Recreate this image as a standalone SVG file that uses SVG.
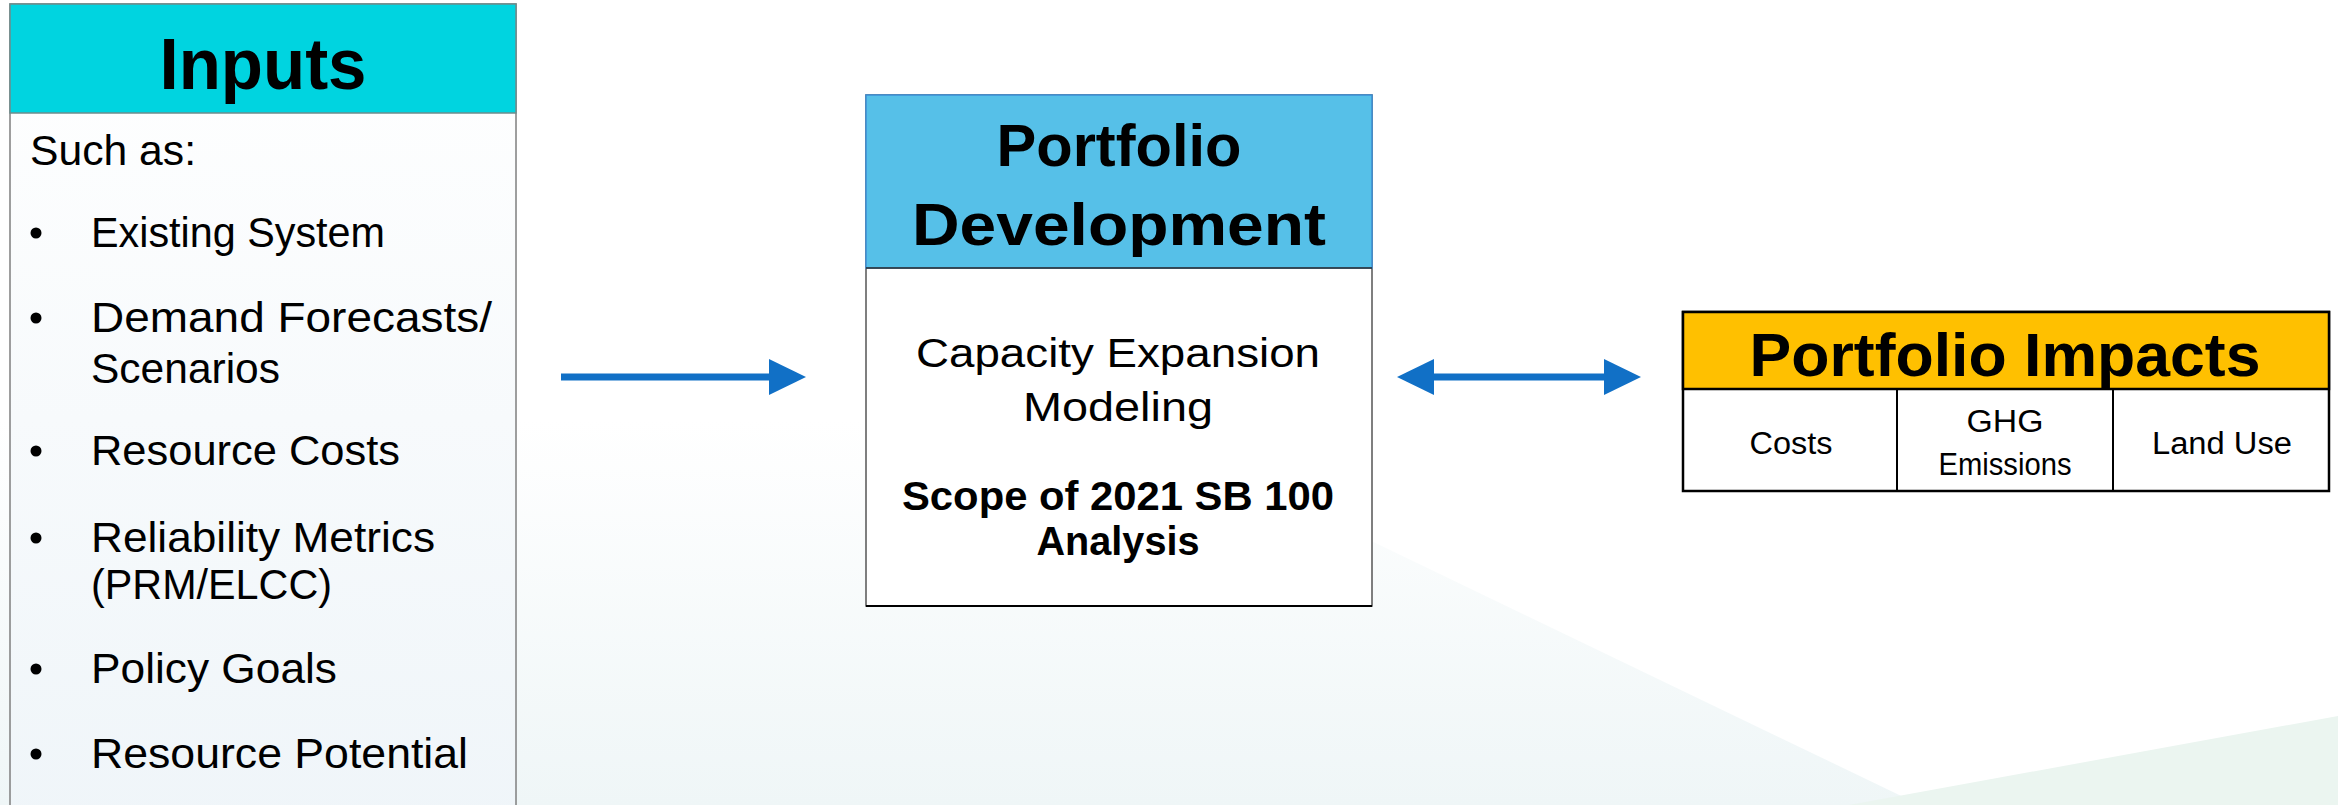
<svg xmlns="http://www.w3.org/2000/svg" width="2338" height="805" viewBox="0 0 2338 805">
  <style>
    .t { font-family: "Liberation Sans", Arial, sans-serif; fill: #000; }
    .b { font-weight: bold; }
    .body { font-size: 42px; }
    .mid { text-anchor: middle; }
    .cell { font-size: 31px; }
    .conn { stroke: #1170C6; stroke-width: 7; fill: none; }
  </style>
  <defs>
    <linearGradient id="bgTint" x1="0" y1="0" x2="0" y2="1">
      <stop offset="0" stop-color="#FFFFFF"/>
      <stop offset="1" stop-color="#EFF6F7"/>
    </linearGradient>
    <linearGradient id="inTint" x1="0" y1="0" x2="0" y2="1">
      <stop offset="0" stop-color="#FFFFFF"/>
      <stop offset="1" stop-color="#EFF5F9"/>
    </linearGradient>
    <marker id="head" viewBox="0 0 37 36" refX="0" refY="18" markerWidth="37" markerHeight="36" markerUnits="userSpaceOnUse" orient="auto-start-reverse">
      <path d="M0,0 L37,18 L0,36 Z" fill="#1170C6"/>
    </marker>
  </defs>

  <!-- background -->
  <rect x="0" y="0" width="2338" height="805" fill="#FFFFFF"/>
  <polygon points="0,420 1120,420 1920,805 0,805" fill="url(#bgTint)"/>
  <polygon points="1849,805 2338,716 2338,805" fill="#EBF5F0"/>

  <!-- Inputs -->
  <g id="inputs">
    <rect x="10" y="4" width="506" height="830" fill="url(#inTint)" stroke="#7F7F7F" stroke-width="1.5"/>
    <rect x="10" y="4" width="506" height="109" fill="#00D4E0" stroke="#6E8C8C" stroke-width="1.5"/>
    <text class="t b mid" x="263" y="89" font-size="73" textLength="207" lengthAdjust="spacingAndGlyphs">Inputs</text>
    <text class="t body" x="30" y="165" textLength="166" lengthAdjust="spacingAndGlyphs">Such as:</text>
    <g fill="#000">
      <circle cx="36" cy="233" r="5.5"/>
      <circle cx="36" cy="318" r="5.5"/>
      <circle cx="36" cy="451" r="5.5"/>
      <circle cx="36" cy="538" r="5.5"/>
      <circle cx="36" cy="669" r="5.5"/>
      <circle cx="36" cy="754" r="5.5"/>
    </g>
    <text class="t body" x="91" y="247" textLength="294" lengthAdjust="spacingAndGlyphs">Existing  System</text>
    <text class="t body" x="91" y="332" textLength="401" lengthAdjust="spacingAndGlyphs">Demand Forecasts/</text>
    <text class="t body" x="91" y="383" textLength="189" lengthAdjust="spacingAndGlyphs">Scenarios</text>
    <text class="t body" x="91" y="465" textLength="309" lengthAdjust="spacingAndGlyphs">Resource Costs</text>
    <text class="t body" x="91" y="552" textLength="344" lengthAdjust="spacingAndGlyphs">Reliability  Metrics</text>
    <text class="t body" x="91" y="599" textLength="241" lengthAdjust="spacingAndGlyphs">(PRM/ELCC)</text>
    <text class="t body" x="91" y="683" textLength="246" lengthAdjust="spacingAndGlyphs">Policy Goals</text>
    <text class="t body" x="91" y="768" textLength="377" lengthAdjust="spacingAndGlyphs">Resource Potential</text>
  </g>

  <!-- Portfolio Development -->
  <g id="portfolio-development">
    <rect x="866" y="95" width="506" height="511" fill="#FFFFFF" stroke="#555555" stroke-width="1.5"/>
    <line x1="866" y1="606" x2="1372" y2="606" stroke="#000" stroke-width="2"/>
    <rect x="866" y="95" width="506" height="173" fill="#56C0E8" stroke="#3D8ED6" stroke-width="1.5"/>
    <line x1="866" y1="268" x2="1372" y2="268" stroke="#2B2B2B" stroke-width="1.5"/>
    <text class="t b mid" x="1119" y="166" font-size="60" textLength="245" lengthAdjust="spacingAndGlyphs">Portfolio</text>
    <text class="t b mid" x="1119" y="245" font-size="60" textLength="414" lengthAdjust="spacingAndGlyphs">Development</text>
    <text class="t mid" x="1118" y="367" font-size="40" textLength="404" lengthAdjust="spacingAndGlyphs">Capacity  Expansion</text>
    <text class="t mid" x="1118" y="421" font-size="40" textLength="190" lengthAdjust="spacingAndGlyphs">Modeling</text>
    <text class="t b mid" x="1118" y="510" font-size="41" textLength="432" lengthAdjust="spacingAndGlyphs">Scope  of  2021  SB  100</text>
    <text class="t b mid" x="1118" y="555" font-size="41" textLength="163" lengthAdjust="spacingAndGlyphs">Analysis</text>
  </g>

  <!-- Portfolio Impacts -->
  <g id="portfolio-impacts">
    <rect x="1683" y="312" width="646" height="179" fill="#FFFFFF" stroke="#000" stroke-width="2.5"/>
    <rect x="1683" y="312" width="646" height="77" fill="#FFC000" stroke="#000" stroke-width="2.5"/>
    <line x1="1897" y1="389" x2="1897" y2="491" stroke="#000" stroke-width="2"/>
    <line x1="2113" y1="389" x2="2113" y2="491" stroke="#000" stroke-width="2"/>
    <text class="t b mid" x="2005" y="376" font-size="62" textLength="511" lengthAdjust="spacingAndGlyphs">Portfolio Impacts</text>
    <text class="t cell mid" x="1791" y="454" textLength="83" lengthAdjust="spacingAndGlyphs">Costs</text>
    <text class="t cell mid" x="2005" y="432" textLength="77" lengthAdjust="spacingAndGlyphs">GHG</text>
    <text class="t cell mid" x="2005" y="475" textLength="133" lengthAdjust="spacingAndGlyphs">Emissions</text>
    <text class="t cell mid" x="2222" y="454" textLength="140" lengthAdjust="spacingAndGlyphs">Land Use</text>
  </g>

  <!-- connectors -->
  <g id="connectors">
    <line class="conn" x1="561" y1="377" x2="769" y2="377" marker-end="url(#head)"/>
    <line class="conn" x1="1434" y1="377" x2="1604" y2="377" marker-start="url(#head)" marker-end="url(#head)"/>
  </g>
</svg>
